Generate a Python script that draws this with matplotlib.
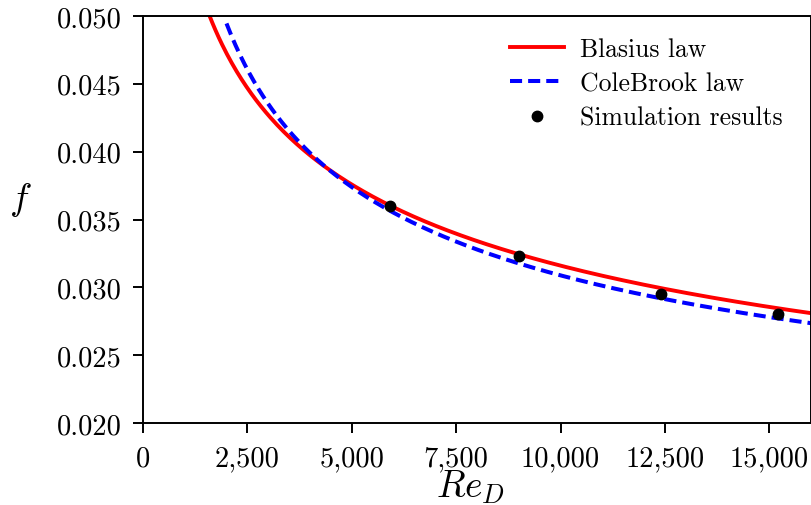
"""Friction factor vs Reynolds number: Blasius / Colebrook laws and simulation points."""
import matplotlib
matplotlib.use("Agg")
import matplotlib.pyplot as plt
from matplotlib.ticker import FuncFormatter
import numpy as np

plt.rcParams.update({"font.family": "serif", "font.serif": ["cmr10"],
                     "mathtext.fontset": "cm", "axes.formatter.use_mathtext": True,
                     "axes.unicode_minus": False})

# laws (smooth pipe)
BLASIUS_C, BLASIUS_EXP = 0.316, -0.25
re_blasius = np.linspace(1000, 16500, 400)
re_colebrook = np.linspace(2000, 16500, 400)

# simulation results
sim_re = [5920, 9000, 12400, 15200]
sim_f = [0.0360, 0.0323, 0.0295, 0.0280]

xticks = [0, 2500, 5000, 7500, 10000, 12500, 15000]
yticks = [0.020, 0.025, 0.030, 0.035, 0.040, 0.045, 0.050]

f_blasius = BLASIUS_C * re_blasius ** BLASIUS_EXP
f_cole = np.full_like(re_colebrook, 0.03)
for _ in range(50):
    f_cole = (-2.0 * np.log10(2.51 / (re_colebrook * np.sqrt(f_cole)))) ** -2

fig = plt.figure(figsize=(8.11, 5.06), dpi=100)
ax = fig.add_axes([143 / 811, 82 / 506, 668 / 811, 407 / 506])
ax.plot(re_blasius, f_blasius, color="red", lw=2.8, label="Blasius law")
ax.plot(re_colebrook, f_cole, color="blue", lw=2.9, ls=(0, (3.0, 1.5)), label="ColeBrook law")
ax.plot(sim_re, sim_f, "o", color="black", ms=7.5, ls="none", label="Simulation results")

ax.set_xlim(0, 16000); ax.set_ylim(0.020, 0.050)
ax.set_xticks(xticks); ax.set_yticks(yticks)
ax.xaxis.set_major_formatter(FuncFormatter(lambda v, p: f"{v:,.0f}"))
ax.yaxis.set_major_formatter(FuncFormatter(lambda v, p: f"{v:.3f}"))
ax.tick_params(labelsize=20.5, length=7, width=1.4)
ax.tick_params(axis="x", pad=9)
ax.tick_params(axis="y", pad=8)
for s in ax.spines.values():
    s.set_linewidth(1.4)

ax.set_xlabel("$Re_D$", fontsize=27, va="center")
ax.set_ylabel("$f$", fontsize=27, rotation=0, va="center", ha="center")
ax.xaxis.set_label_coords(0.49, -0.156)
ax.yaxis.set_label_coords(-0.184, 0.55)

ax.legend(loc="upper right", bbox_to_anchor=(0.985, 0.993), frameon=False, fontsize=18.5,
          handlelength=2.1, handletextpad=0.65, borderaxespad=0.3, labelspacing=0.42)
fig.savefig("out.png", dpi=100)
